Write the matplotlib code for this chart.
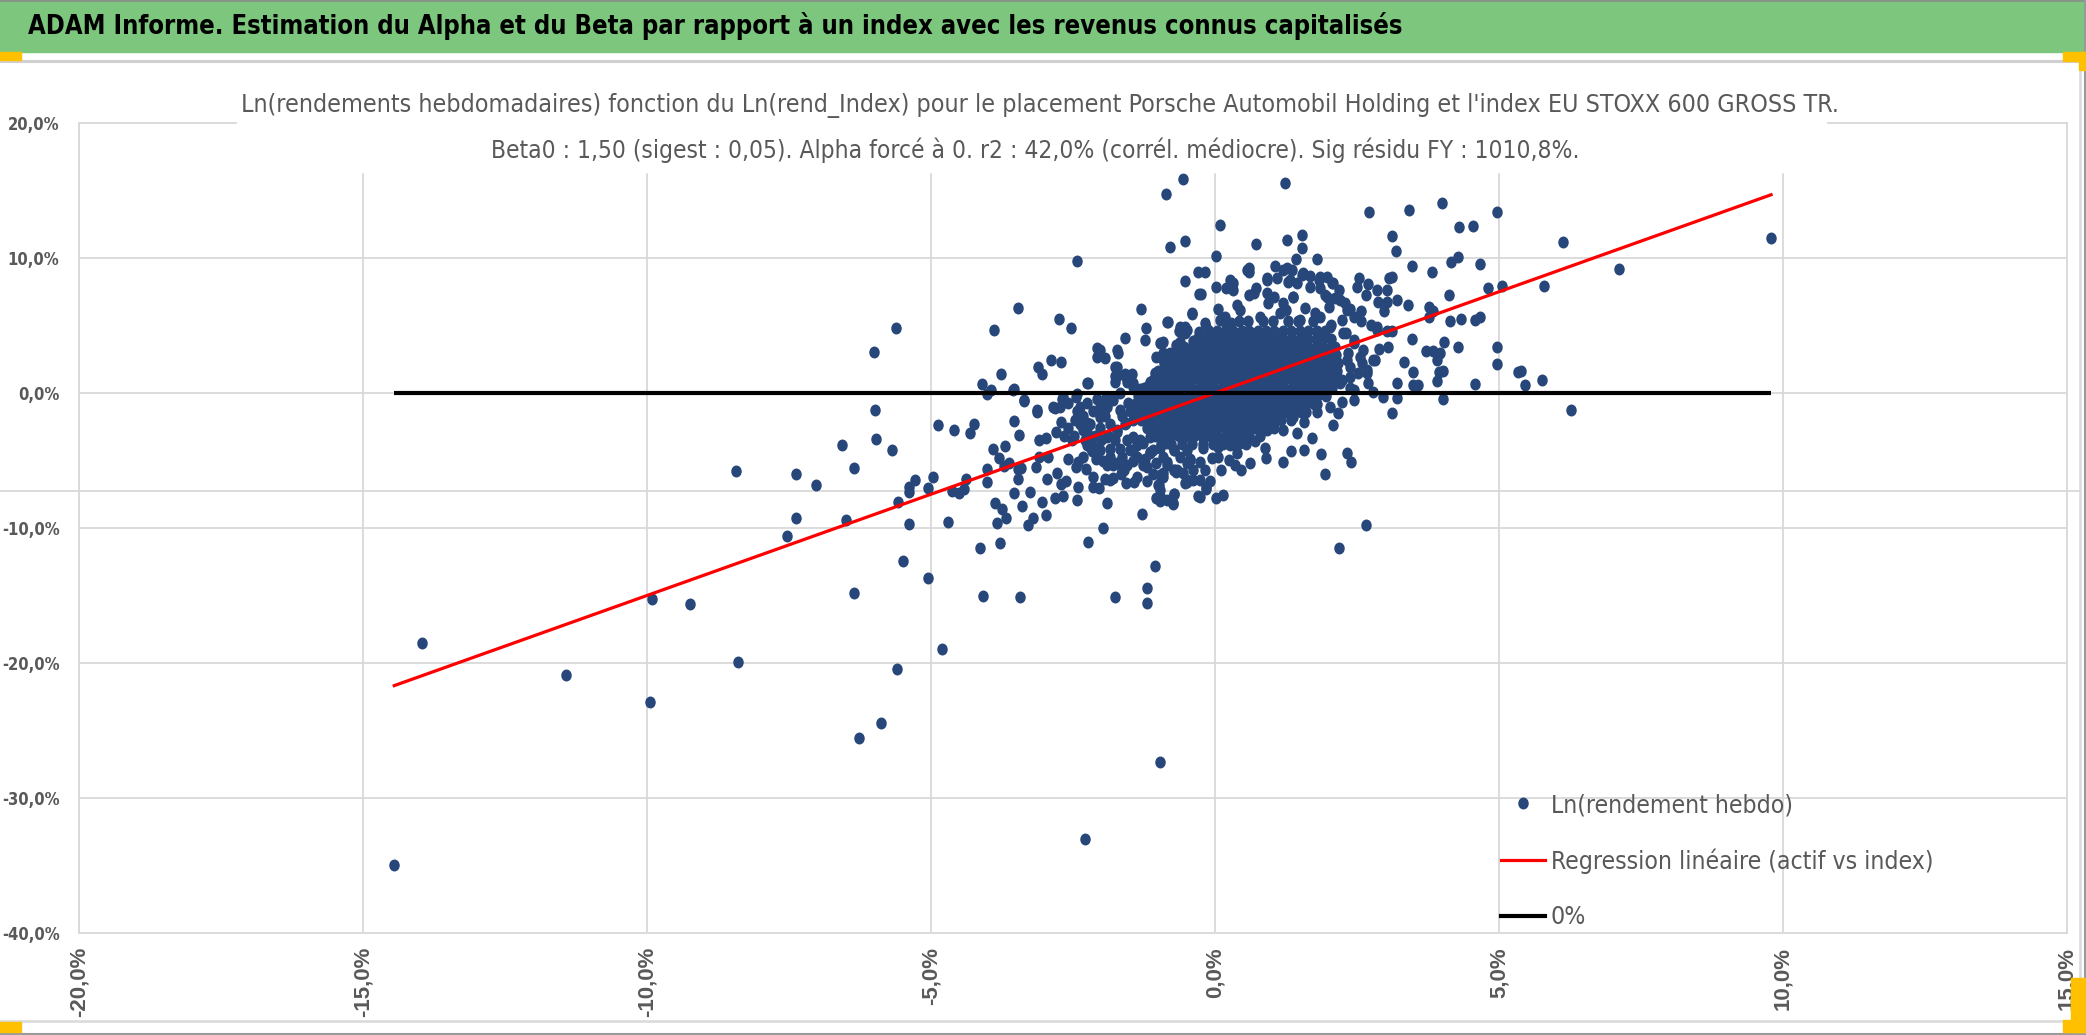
import os
import numpy as np
import matplotlib
matplotlib.use("Agg")
import matplotlib.pyplot as plt
from matplotlib import font_manager as fm
from matplotlib.font_manager import FontProperties
from matplotlib.lines import Line2D
from matplotlib.patches import Rectangle
from matplotlib.path import Path

# -----------------------------
# DATA (weekly log-returns, % ; x = index, y = asset)
# -----------------------------
BETA = 1.50

far_points = [
    (-14.45, -34.96), (-13.97, -18.54), (-11.43, -20.87), (-9.91, -15.28), (-9.95, -22.87),
    (-9.25, -15.60), (-8.39, -19.93), (-8.44, -5.80), (-6.26, -25.58), (-5.88, -24.41),
    (-5.59, -20.42), (-4.81, -18.97), (-6.35, -14.82), (-2.28, -33.05), (-0.96, -27.33),
]

left_points = [
    (-5.62, 4.85), (-6.00, 3.03), (-5.99, -1.27), (-4.88, -2.37), (-4.59, -2.71), (-4.24, -2.31),
    (-4.31, -2.96), (-3.53, -2.07), (-3.45, -3.08), (-5.97, -3.42), (-5.68, -4.19), (-6.56, -3.82),
    (-6.36, -5.57), (-7.37, -6.03), (-7.02, -6.83), (-7.37, -9.23), (-7.53, -10.61), (-6.50, -9.38),
    (-5.58, -8.06), (-5.39, -6.96), (-5.29, -6.43), (-5.38, -7.35), (-5.05, -7.00), (-4.96, -6.20),
    (-5.39, -9.72), (-5.50, -12.42), (-5.06, -13.68), (-4.70, -9.57), (-4.63, -7.26), (-4.50, -7.38),
    (-4.42, -7.14), (-4.39, -6.37), (-4.01, -6.58), (-4.01, -5.66), (-3.90, -4.13), (-3.81, -4.80),
    (-3.70, -3.94), (-3.71, -5.42), (-3.63, -5.20), (-3.46, -5.66), (-3.42, -5.54), (-3.46, -6.34),
    (-3.87, -8.18), (-3.75, -8.61), (-3.68, -9.23), (-3.84, -9.63), (-3.79, -11.13), (-4.14, -11.50),
    (-4.09, -15.00), (-3.43, -15.13), (-3.53, -7.38), (-3.39, -8.37), (-3.26, -7.32), (-3.21, -9.23),
    (-3.29, -9.78), (-3.05, -8.06), (-2.98, -9.04), (-2.95, -6.37), (-3.15, -5.51), (-3.10, -3.51),
    (-2.98, -3.33), (-2.94, -4.74), (-3.10, -4.74), (-2.78, -5.91), (-2.82, -7.75), (-2.67, -7.60),
    (-2.72, -6.77), (-2.62, -6.55), (-2.41, -6.95), (-2.43, -7.91), (-2.24, -11.07), (-1.97, -10.03),
    (-1.91, -8.18), (-2.14, -6.95), (-2.05, -7.02), (-2.27, -5.66), (-2.42, -5.11), (-2.58, -4.86),
    (-2.51, -3.51), (-2.66, -3.20), (-2.80, -2.90), (-2.26, -3.82), (-2.10, -4.07), (-2.09, -4.90),
    (-1.91, -5.36), (-1.93, -6.40), (-1.79, -6.28), (-1.66, -5.97), (-1.43, -6.58), (-1.29, -8.98),
    (-1.19, -6.49), (-1.23, -4.89), (-1.63, -4.74), (-1.44, -4.19), (-1.76, -15.13), (-1.20, -14.48),
    (-1.20, -15.56), (-1.05, -12.82), (-0.95, -7.81), (-0.74, -8.21), (-0.99, -6.83), (-0.73, -7.50),
    (-0.50, -6.58), (-0.30, -7.66), (-0.69, -5.82), (-0.44, -4.89), (-0.85, -5.36), (-0.94, -6.12),
]

upper_left = [
    (-0.56, 15.85), (-0.86, 14.74), (-0.80, 10.81), (-0.52, 11.24), (-2.43, 9.79), (-0.53, 8.29),
    (-0.30, 9.00), (-0.29, 7.34), (-3.47, 6.29), (-3.89, 4.69), (-2.74, 5.49), (-2.53, 4.85),
    (-1.31, 6.20), (-1.22, 4.85), (-1.23, 3.96), (-1.58, 4.05), (-0.83, 5.28), (-0.41, 5.86),
    (-2.89, 2.45), (-2.71, 2.30), (-3.12, 1.90), (-3.04, 1.40), (-3.77, 1.40), (-4.11, 0.70),
    (-4.01, -0.10), (-3.94, 0.20), (-3.53, 0.30), (-3.37, -0.60), (-3.14, -1.40), (-2.07, 3.30),
    (-1.94, 2.60), (-1.76, 1.90), (-1.70, 3.00), (-1.76, 1.25), (-2.25, 0.76), (-2.43, -0.07),
    (-2.69, -0.44), (-2.58, -0.75), (-2.82, -1.10), (-2.43, -1.36), (-2.71, -2.16), (-2.07, -0.44),
    (-1.92, -0.38), (-0.96, 3.71), (-0.91, 2.94), (-0.97, 2.63), (-0.85, 2.02), (-0.73, 2.63),
    (-0.68, 3.56), (-0.62, 3.25), (-0.53, 4.48), (-0.38, 3.86), (-0.50, 2.63), (-0.35, 2.02),
    (-0.91, 1.40), (-0.73, 1.40), (-1.14, 0.79), (-1.03, 0.48), (-1.50, 1.25), (-1.55, 0.79),
    (-1.44, 0.48), (-1.32, 0.33), (-1.20, 0.18), (-1.67, 0.02), (-1.58, 1.40), (-1.47, 1.40),
    (-1.73, 1.25), (-1.87, -0.59), (-1.76, 0.79), (-2.02, 3.18), (-1.73, 3.18), (-1.56, 1.21),
    (-1.44, 0.71), (-1.20, 0.47), (-1.03, 1.21), (-0.91, 1.45), (-1.73, 1.95), (-2.08, 2.69),
    (-1.09, 0.47), (-1.32, 0.22), (-2.23, 0.71), (-2.44, -0.27), (-2.67, -0.27), (-2.73, -1.01),
    (-2.85, -1.01), (-3.14, -1.26), (-3.37, -0.52), (-3.55, 0.22),
]

mid_left = [
    (-2.32, -1.67), (-2.20, -2.28), (-2.26, -2.90), (-2.11, -3.20), (-2.02, -2.59), (-1.94, -1.67),
    (-1.85, -2.28), (-1.73, -2.90), (-1.76, -3.51), (-1.67, -4.13), (-1.55, -3.51), (-1.58, -2.28),
    (-1.50, -1.36), (-1.85, -4.13), (-1.97, -5.05), (-1.79, -5.36), (-1.64, -5.66), (-1.55, -5.36),
    (-1.44, -5.05), (-1.38, -3.82), (-2.38, -2.28), (-2.29, -3.51), (-2.17, -4.28), (-2.00, -3.51),
    (-1.88, -3.20), (-1.64, -1.67), (-1.53, -0.75), (-1.44, -1.98), (-1.32, -3.51), (-1.26, -5.36),
    (-1.14, -4.43), (-1.09, -5.97), (-2.02, -1.05), (-2.14, -1.36), (-2.26, -0.75), (-2.38, -1.05),
    (-2.47, -1.98), (-2.58, -2.59), (-2.49, -3.20), (-2.38, -1.76), (-2.26, -2.25), (-2.32, -2.74),
    (-2.14, -3.24), (-2.02, -1.76), (-1.91, -1.01), (-1.79, -0.52), (-1.67, -1.26), (-1.56, -2.25),
    (-1.44, -3.24), (-2.02, -4.22), (-1.85, -4.72), (-1.73, -5.21), (-1.61, -5.71), (-1.50, -4.22),
    (-1.38, -4.72), (-1.26, -3.73), (-1.14, -3.24), (-1.73, -2.74), (-1.91, -3.24), (-2.20, -3.98),
    (-2.32, -4.72), (-2.44, -5.46), (-2.14, -6.20), (-1.85, -6.45), (-1.56, -6.69), (-1.38, -6.20),
    (-1.20, -5.46), (-1.03, -5.21), (-0.91, -4.72), (-1.09, -4.22), (-0.85, -3.73), (-0.73, -4.22),
    (-0.62, -4.72), (-0.50, -5.21), (-0.38, -5.71), (-0.26, -6.45), (-0.15, -6.94), (-0.50, -6.45),
    (-0.73, -5.71), (-0.91, -6.20), (-0.97, -7.19), (-0.85, -7.93), (-1.03, -7.80),
]

upper_right = [
    (1.23, 15.53), (0.08, 12.44), (0.73, 11.06), (1.27, 11.33), (1.53, 11.73), (1.53, 10.76),
    (0.02, 10.12), (1.42, 9.93), (1.80, 9.93), (2.72, 13.41), (3.42, 13.56), (4.00, 14.05),
    (4.97, 13.41), (4.29, 12.27), (4.54, 12.35), (3.12, 11.63), (3.18, 10.52), (6.13, 11.16),
    (7.12, 9.16), (9.79, 11.46), (4.27, 10.10), (4.16, 9.70), (4.67, 9.56), (3.47, 9.41),
    (3.82, 8.94), (5.06, 7.95), (4.80, 7.75), (5.79, 7.90), (4.12, 7.26), (3.39, 6.54),
    (3.21, 6.91), (3.77, 6.39), (3.83, 6.10), (3.77, 5.65), (4.13, 5.36), (4.33, 5.48),
    (4.58, 5.41), (4.67, 5.65), (3.12, 8.62), (3.06, 8.49), (2.54, 8.54), (2.69, 8.05),
    (2.50, 7.83), (2.86, 7.63), (3.03, 7.63), (2.66, 7.26), (2.87, 6.77), (3.02, 6.72),
    (2.97, 6.10), (2.57, 6.10), (2.57, 5.33), (2.75, 5.04), (2.86, 4.91), (3.02, 4.57),
    (3.12, 4.57), (3.47, 3.98), (4.03, 3.78), (4.27, 3.41), (3.72, 3.14), (3.83, 3.09),
    (3.91, 2.44), (3.96, 2.99), (3.05, 3.38), (2.89, 3.23), (2.82, 2.44), (3.33, 2.27),
    (3.48, 1.56), (4.01, 1.65), (3.95, 1.53), (3.91, 0.91), (3.58, 0.59), (3.49, 0.59),
    (3.20, 0.72), (4.58, 0.67), (4.97, 3.41), (4.96, 2.15), (5.34, 1.58), (5.39, 1.63),
    (5.45, 0.62), (5.75, 0.96), (6.27, -1.26), (4.02, -0.47), (3.20, -0.40), (3.11, -1.46),
    (2.96, -0.27), (2.78, 0.10), (2.70, 0.72), (2.45, -0.52), (2.24, -0.64), (2.03, -1.01),
    (2.16, -1.46), (2.07, -2.37), (2.32, -4.47), (2.40, -5.09), (1.94, -6.02), (1.87, -4.54),
    (1.71, -3.36), (1.57, -4.22), (1.33, -4.32), (1.20, -5.09), (0.90, -4.84), (0.88, -4.10),
    (0.70, -3.56), (0.62, -5.16), (0.45, -5.70), (0.35, -5.33), (0.10, -5.70), (0.14, -7.53),
    (0.02, -7.80), (-0.16, -7.09), (-0.26, -7.68), (-0.09, -6.49), (-0.38, -6.44), (-0.52, -6.69),
    (-0.72, -7.48), (-0.74, -8.17), (-0.96, -7.98), (-1.00, -6.84), (-0.97, -6.07), (-0.72, -5.70),
    (2.66, -9.78), (2.18, -11.46), (2.26, 4.42), (2.44, 3.68), (2.55, 2.69), (2.67, 1.70),
    (2.38, 1.21), (2.20, 0.71), (2.44, 0.22), (2.61, 3.18), (2.79, 2.44), (2.85, 4.67), (2.32, 2.44),
]

core_ring = [
    (-0.25, 7.36), (-0.18, 8.94), (-0.41, 5.90), (0.01, 7.83), (0.26, 8.37), (0.19, 7.75),
    (0.31, 7.63), (0.59, 9.23), (0.59, 8.99), (0.38, 6.52), (0.06, 6.20), (0.17, 5.65),
    (0.29, 5.21), (0.59, 7.26), (0.72, 7.80), (0.91, 8.49), (1.05, 9.41), (1.10, 8.49),
    (1.26, 9.23), (1.36, 9.11), (1.28, 8.25), (1.44, 8.12), (1.54, 8.74), (1.68, 8.67),
    (1.83, 8.37), (1.97, 8.57), (2.06, 8.12), (2.18, 7.63), (1.94, 7.26), (1.84, 7.75),
    (1.38, 7.09), (0.91, 7.38), (0.94, 6.64), (1.19, 6.64), (1.25, 6.15), (1.59, 6.27),
    (1.76, 5.90), (2.00, 6.39), (2.11, 7.01), (2.29, 6.64), (2.38, 6.20), (2.23, 5.41),
    (2.05, 5.04), (1.91, 4.42), (2.30, 4.42), (2.44, 3.93), (2.35, 2.94), (2.58, 2.20),
    (2.38, 1.95), (2.52, 1.46), (2.67, 1.46), (2.23, 0.96), (2.38, 0.35), (2.11, 1.46),
    (-0.63, 4.59), (-0.53, 4.91), (-0.29, 4.54), (-0.18, 5.16), (-0.91, 3.80), (-1.03, 2.69),
    (-0.79, 2.94), (-0.62, 3.80), (-0.44, 2.20), (-0.86, 1.63), (-1.06, 1.46), (-0.67, 1.58),
    (-0.85, -5.09), (-0.91, -5.95), (-0.67, -5.70), (-0.56, -5.95), (-0.44, -4.96), (-0.26, -5.09),
    (-0.18, -5.70), (-0.06, -4.84), (0.06, -4.72), (0.24, -4.96), (0.38, -4.47), (0.44, -3.73),
    (0.26, -3.85), (0.06, -3.98), (-0.21, -4.10), (-0.50, -4.22), (-0.73, -4.22), (-0.97, -4.10),
    (-1.14, -4.35), (0.91, -2.74), (1.20, -2.74), (1.44, -2.99), (1.56, -2.12), (1.79, -1.38),
    (1.38, -1.75), (0.32, 8.12), (0.56, 9.11), (0.68, 7.38), (0.91, 8.37), (1.03, 7.13),
    (1.20, 9.11), (1.32, 8.37), (1.38, 7.13), (1.55, 8.86), (1.67, 7.87), (1.85, 8.62),
    (1.97, 7.13), (2.08, 8.12), (2.20, 6.89), (2.32, 6.15), (2.44, 5.65), (0.44, 6.15),
    (0.79, 5.65), (1.14, 5.90), (1.50, 5.41), (1.85, 5.65), (2.02, 4.91), (0.09, 5.41),
    (-0.15, 4.91), (-0.26, 4.17), (-0.50, 4.67), (-0.62, 4.91), (-0.85, 5.28),
]

# dense core, read row by row (y, x values)
core_rows = [
    (5.3, [0.15, 0.42, 0.58, 0.84, 1.02, 1.28, 1.47, 1.72]),
    (4.6, [-0.10, 0.04, 0.18, 0.31, 0.47, 0.60, 0.76, 0.90, 1.04, 1.19, 1.33, 1.50, 1.63, 1.79,
           1.93]),
    (4.0, [-0.31, -0.17, -0.04, 0.10, 0.23, 0.38, 0.51, 0.66, 0.79, 0.93, 1.07, 1.20, 1.35,
           1.49, 1.62, 1.77, 1.90, 2.04]),
    (3.4, [-0.55, -0.41, -0.28, -0.14, 0.00, 0.14, 0.27, 0.41, 0.55, 0.68, 0.82, 0.96, 1.09,
           1.23, 1.37, 1.50, 1.64, 1.78, 1.91, 2.05, 2.11]),
    (2.8, [-0.80, -0.66, -0.52, -0.39, -0.25, -0.11, 0.02, 0.16, 0.30, 0.43, 0.57, 0.71, 0.84,
           0.98, 1.12, 1.25, 1.39, 1.53, 1.66, 1.80, 1.94, 2.07, 2.13]),
    (2.2, [-0.90, -0.76, -0.63, -0.49, -0.35, -0.22, -0.08, 0.06, 0.19, 0.33, 0.47, 0.60, 0.74,
           0.88, 1.01, 1.15, 1.29, 1.42, 1.56, 1.70, 1.83, 1.97, 2.11, 2.16]),
    (1.6, [-1.00, -0.86, -0.73, -0.59, -0.45, -0.32, -0.18, -0.04, 0.09, 0.23, 0.37, 0.50, 0.64,
           0.78, 0.91, 1.05, 1.19, 1.32, 1.46, 1.60, 1.73, 1.87, 2.01, 2.15]),
    (1.0, [-1.10, -0.96, -0.83, -0.69, -0.55, -0.42, -0.28, -0.14, -0.01, 0.13, 0.27, 0.40,
           0.54, 0.68, 0.81, 0.95, 1.09, 1.22, 1.36, 1.50, 1.63, 1.77, 1.91, 2.04, 2.10]),
    (0.4, [-1.25, -1.11, -0.98, -0.84, -0.70, -0.57, -0.43, -0.29, -0.16, -0.02, 0.12, 0.25,
           0.39, 0.53, 0.66, 0.80, 0.94, 1.07, 1.21, 1.35, 1.48, 1.62, 1.76, 1.89, 2.03, 2.06]),
    (-0.2, [-1.35, -1.21, -1.08, -0.94, -0.80, -0.67, -0.53, -0.39, -0.26, -0.12, 0.02, 0.15,
            0.29, 0.43, 0.56, 0.70, 0.84, 0.97, 1.11, 1.25, 1.38, 1.52, 1.66, 1.79, 1.95]),
    (-0.8, [-1.40, -1.26, -1.13, -0.99, -0.85, -0.72, -0.58, -0.44, -0.31, -0.17, -0.03, 0.10,
            0.24, 0.38, 0.51, 0.65, 0.79, 0.92, 1.06, 1.20, 1.33, 1.47, 1.61, 1.74, 1.80]),
    (-1.4, [-1.35, -1.21, -1.08, -0.94, -0.80, -0.67, -0.53, -0.39, -0.26, -0.12, 0.02, 0.15,
            0.29, 0.43, 0.56, 0.70, 0.84, 0.97, 1.11, 1.25, 1.38, 1.52, 1.60]),
    (-2.0, [-1.30, -1.16, -1.03, -0.89, -0.75, -0.62, -0.48, -0.34, -0.21, -0.07, 0.07, 0.20,
            0.34, 0.48, 0.61, 0.75, 0.89, 1.02, 1.16, 1.33]),
    (-2.6, [-1.20, -1.06, -0.93, -0.79, -0.65, -0.52, -0.38, -0.24, -0.11, 0.03, 0.17, 0.30,
            0.44, 0.58, 0.71, 0.85, 1.03]),
    (-3.2, [-1.05, -0.91, -0.78, -0.64, -0.50, -0.37, -0.23, -0.09, 0.04, 0.18, 0.32, 0.45,
            0.59, 0.80]),
    (-3.8, [-0.95, -0.77, -0.58, -0.41, -0.22, -0.04, 0.14, 0.33, 0.55]),
]

X_TICKS = [-20, -15, -10, -5, 0, 5, 10, 15]
Y_TICKS = [-40, -30, -20, -10, 0, 10, 20]

TITLE = "ADAM Informe. Estimation du Alpha et du Beta par rapport à un index avec les revenus connus capitalisés"
SUB1 = ("Ln(rendements hebdomadaires) fonction du Ln(rend_Index) pour le placement "
        "Porsche Automobil Holding et l'index EU STOXX 600 GROSS TR.")
SUB2 = ("Beta0 : 1,50 (sigest : 0,05). Alpha forcé à 0. r2 : 42,0% (corrél. médiocre). "
        "Sig résidu FY : 1010,8%.")
LEGEND_LABELS = ["Ln(rendement hebdo)", "Regression linéaire (actif vs index)", "0%"]

# -----------------------------
# FONTS: look for a condensed face (Calibri-like), else plain Liberation Sans
# -----------------------------
files = {os.path.basename(f.fname): f.fname for f in fm.fontManager.ttflist}
CANDIDATES = [
    ("NotoSans-SemiCondensed.ttf", "NotoSans-SemiCondensedBold.ttf"),
    ("NotoSans-Condensed.ttf", "NotoSans-CondensedBold.ttf"),
    ("LiberationSansNarrow-Regular.ttf", "LiberationSansNarrow-Bold.ttf"),
    ("OpenSans_SemiCondensed-Regular.ttf", "OpenSans_SemiCondensed-Bold.ttf"),
    ("DejaVuSansCondensed.ttf", "DejaVuSansCondensed-Bold.ttf"),
    ("LiberationSans-Regular.ttf", "LiberationSans-Bold.ttf"),
]
REG_FILE, BOLD_FILE = None, None
for reg, bold in CANDIDATES:
    if reg in files and bold in files:
        REG_FILE, BOLD_FILE = files[reg], files[bold]
        break


def narrow(size, bold=False):
    path = BOLD_FILE if bold else REG_FILE
    if path is None:
        return FontProperties(family="Liberation Sans", size=size,
                              weight="bold" if bold else "normal")
    return FontProperties(fname=path, size=size)


# -----------------------------
# STYLE
# -----------------------------
W, H = 2086, 1035
TXT = "#595959"
GRID = "#D9D9D9"
DOT = "#27477A"
MS = 7.6

pts = far_points + left_points + upper_left + mid_left + upper_right + core_ring
for yy, xs in core_rows:
    pts += [(xx, yy) for xx in xs]
px = np.array([p[0] for p in pts])
py = np.array([p[1] for p in pts])

# slightly tall ellipse marker like Excel's dots
circ = Path.unit_circle()
ell = Path(circ.vertices * np.array([0.86, 1.0]), circ.codes)


def fx(p):
    return p / W


def fy(p):
    return 1 - p / H


fig = plt.figure(figsize=(W / 100, H / 100), dpi=100, facecolor="white")
renderer = fig.canvas.get_renderer()


def text_width(s, fp):
    t = fig.text(0, 0, s, fontproperties=fp)
    w = t.get_window_extent(renderer=renderer).width
    t.remove()
    return w


ax = fig.add_axes([fx(79), fy(933), (2067 - 79) / W, (933 - 123) / H])
ax.patch.set_visible(False)
ax.set_xlim(-20, 15)
ax.set_ylim(-40, 20)
ax.set_xticks(X_TICKS)
ax.set_yticks(Y_TICKS)
ax.set_xticklabels([f"{v:.1f}%".replace(".", ",") for v in X_TICKS], rotation=90,
                   fontsize=16, fontweight="bold", color=TXT, family="Liberation Sans")
ylabels = ax.set_yticklabels([f"{v:.1f}%".replace(".", ",") for v in Y_TICKS], color=TXT)
fp_y = narrow(14, bold=True)
fp_y.set_size(14 * 58 / text_width("-40,0%", fp_y))
for lbl in ylabels:
    lbl.set_fontproperties(fp_y)
ax.tick_params(axis="both", length=0)
ax.tick_params(axis="x", pad=10)
ax.tick_params(axis="y", pad=14)
ax.grid(True, color=GRID, linewidth=1.3)
ax.set_axisbelow(True)
for s in ax.spines.values():
    s.set_color(GRID)
    s.set_linewidth(1.3)

ax.plot(px, py, ls="none", marker=ell, markersize=MS, color=DOT, zorder=3)

x_line = np.array([px.min(), px.max()])
ax.plot(x_line, BETA * x_line, color="#FF0000", linewidth=2.3, zorder=4)
ax.plot(x_line, [0, 0], color="black", linewidth=3.0, zorder=4, solid_capstyle="butt")

# legend: text sized to the reference width, rows ~57 px apart
fp_leg = narrow(20)
fp_leg.set_size(20 * 382 / text_width(LEGEND_LABELS[1], fp_leg))
fs_px = fp_leg.get_size() * 100 / 72
handles = [
    Line2D([], [], ls="none", marker=ell, markersize=MS, color=DOT),
    Line2D([], [], color="#FF0000", linewidth=2.3),
    Line2D([], [], color="black", linewidth=3.0),
]
ax.legend(handles, LEGEND_LABELS, loc="upper left", bbox_to_anchor=(fx(1501), fy(793)),
          bbox_transform=fig.transFigure, frameon=False, borderpad=0, borderaxespad=0,
          handlelength=44 / fs_px, handletextpad=6 / fs_px,
          labelspacing=(61 - 1.2 * fs_px) / fs_px, prop=fp_leg, labelcolor=TXT)

# -----------------------------
# FRAME / DECORATIONS (Excel screenshot look)
# -----------------------------
fig.add_artist(Line2D([0, fx(2080)], [fy(491), fy(491)], color=GRID, lw=1.3, zorder=-1))
fig.add_artist(Rectangle((0, fy(52)), 1, 52 / H, color="#7DC67E", zorder=1))
fig.add_artist(Line2D([0, 1], [fy(0.5), fy(0.5)], color="#8A8A8A", lw=1.2, zorder=2))
fig.add_artist(Line2D([0, fx(2080)], [fy(61), fy(61)], color="#D0D0D0", lw=2.2, zorder=2))
fig.add_artist(Line2D([fx(2080), fx(2080)], [fy(61), fy(1021)], color=GRID, lw=1.8, zorder=2))
fig.add_artist(Line2D([0, fx(2080)], [fy(1021), fy(1021)], color=GRID, lw=1.8, zorder=2))
fig.add_artist(Line2D([0, 1], [fy(1034), fy(1034)], color="#9A9A9A", lw=1.5, zorder=2))
fig.add_artist(Line2D([fx(2085), fx(2085)], [0, 1], color="#9A9A9A", lw=1.5, zorder=2))

# title box of the chart hides the top of the plot area
fig.add_artist(Rectangle((fx(237), fy(172)), (1826 - 237) / W, (172 - 84) / H,
                         color="white", zorder=2))

YEL = "#FFC000"
for (x0, y0, x1, y1) in [(0, 52, 21, 60), (2063, 52, 2086, 61), (2079, 52, 2086, 70),
                         (0, 1022, 21, 1032), (2071, 978, 2086, 1032), (2063, 1020, 2086, 1032)]:
    fig.add_artist(Rectangle((fx(x0), fy(y1)), (x1 - x0) / W, (y1 - y0) / H, color=YEL, zorder=3))

# header texts, each fitted to the width measured on the reference
fp_t = narrow(20, bold=True)
fp_t.set_size(20 * 1380 / text_width(TITLE, fp_t))
fp_s1 = narrow(18)
fp_s1.set_size(18 * 1591 / text_width(SUB1, fp_s1))
fp_s2 = narrow(18)
fp_s2.set_size(18 * 1085 / text_width(SUB2, fp_s2))

fig.text(fx(28), fy(26), TITLE, ha="left", va="center", fontproperties=fp_t,
         color="black", zorder=4)
fig.text(fx(1040), fy(106), SUB1, ha="center", va="center", fontproperties=fp_s1,
         color=TXT, zorder=4)
fig.text(fx(1035), fy(150), SUB2, ha="center", va="center", fontproperties=fp_s2,
         color=TXT, zorder=4)

fig.savefig("out.png", dpi=100, facecolor="white")
plt.close(fig)
